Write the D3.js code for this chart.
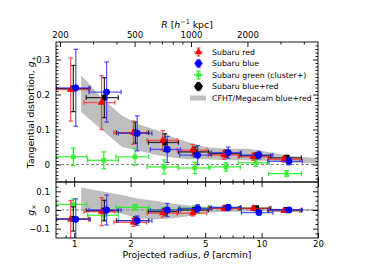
<!DOCTYPE html>
<html>
<head>
<meta charset="utf-8">
<script src="https://cdn.jsdelivr.net/npm/d3@7"></script>
<style>body{margin:0;background:#fff}</style>
</head>
<body>
<script>
// radial bins (arcmin) and bar extents
const thRed   = [0.958, 1.40, 2.07, 2.97, 4.29, 6.30, 9.03, 13.2];
const thRedLo = [0.80, 1.13, 1.63, 2.45, 3.55, 5.20, 7.50, 10.8];
const thRedHi = [1.20, 1.65, 2.44, 3.55, 5.10, 7.60, 11.0, 16.0];
const thBlue   = [1.02, 1.49, 2.17, 3.14, 4.56, 6.64, 9.68, 14.0];
const thBlueLo = [0.80, 1.20, 1.72, 2.55, 3.65, 5.40, 7.80, 10.8];
const thBlueHi = [1.22, 1.78, 2.60, 3.70, 5.40, 7.80, 11.5, 16.5];
const thBlack   = [0.99, 1.45, 2.12, 3.05, 4.41, 6.45, 9.35, 13.6];
const thBlackLo = [0.80, 1.16, 1.68, 2.49, 3.60, 5.30, 7.60, 10.9];
const thBlackHi = [1.20, 1.72, 2.50, 3.60, 5.20, 7.70, 11.2, 16.3];
const thGreen   = [0.99, 1.44, 2.11, 3.02, 4.40, 6.46, 9.30, 13.6];
const thGreenLo = [0.80, 1.18, 1.67, 2.45, 3.60, 5.20, 7.50, 10.9];
const thGreenHi = [1.17, 1.72, 2.50, 3.60, 5.30, 7.70, 11.0, 16.3];

// tangential shear g+
const gtRed    = [0.214, 0.177, 0.091, 0.069, 0.041, 0.027, 0.022, 0.015];
const gtRedE   = [0.090, 0.077, 0.033, 0.028, 0.016, 0.012, 0.010, 0.008];
const gtBlue   = [0.219, 0.207, 0.089, 0.043, 0.027, 0.034, 0.027, 0.009];
const gtBlueE  = [0.110, 0.086, 0.050, 0.037, 0.027, 0.016, 0.011, 0.010];
const gtBlack  = [0.217, 0.191, 0.091, 0.063, 0.036, 0.031, 0.025, 0.019];
const gtBlackE = [0.066, 0.057, 0.030, 0.025, 0.014, 0.010, 0.008, 0.007];
const gtGreen  = [0.022, 0.012, 0.022, -0.007, -0.010, -0.007, 0.005, -0.026];
const gtGreenE = [0.025, 0.024, 0.024, 0.020, 0.016, 0.012, 0.010, 0.008];

// cross shear gx
const gxRed    = [-0.050, -0.009, -0.066, -0.017, -0.017, 0.009, 0.009, -0.004];
const gxRedE   = [0.100, 0.075, 0.022, 0.020, 0.015, 0.012, 0.010, 0.008];
const gxBlue   = [-0.050, 0.000, -0.057, 0.000, 0.009, 0.014, -0.014, 0.000];
const gxBlueE  = [0.110, 0.080, 0.025, 0.035, 0.020, 0.015, 0.012, 0.010];
const gxBlack  = [-0.048, -0.003, -0.057, -0.009, 0.000, 0.010, 0.009, 0.000];
const gxBlackE = [0.065, 0.055, 0.020, 0.018, 0.012, 0.010, 0.008, 0.007];
const gxGreen  = [0.030, -0.028, 0.014, 0.000, 0.009, 0.014, 0.009, -0.004];
const gxGreenE = [0.030, 0.025, 0.015, 0.015, 0.012, 0.010, 0.008, 0.008];

// CFHT band
const bandTh    = [1.09, 1.4, 1.8, 2.2, 2.7, 3.3, 4.0, 5.0, 6.5, 8.5, 11, 14, 20];
const bandTopHi = [0.255, 0.19, 0.14, 0.115, 0.10, 0.08, 0.065, 0.05, 0.045, 0.045, 0.035, 0.025, 0.018];
const bandTopLo = [0.15, 0.10, 0.05, 0.04, 0.028, 0.02, 0.015, 0.015, 0.012, 0.012, 0.01, 0.005, 0.003];
const bandBotHi = [0.12, 0.10, 0.08, 0.06, 0.05, 0.035, 0.025, 0.017, 0.012, 0.010, 0.008, 0.006, 0.005];
const bandBotLo = [0.0, -0.01, -0.02, -0.045, -0.05, -0.045, -0.035, -0.015, -0.01, -0.008, -0.006, -0.005, -0.005];

const xMajor = [1, 2, 5, 10, 20];
const xMinor = [0.9, 3, 4, 6, 7, 8, 9];
const rMajor = [200, 500, 1000, 2000];
const rMinor = [300, 400, 600, 700, 800, 900, 3000, 4000];
const kpcPerArcmin = 238;

const legendLabels = ["Subaru red", "Subaru blue", "Subaru green (cluster+)", "Subaru blue+red", "CFHT/Megacam blue+red"];

const W = 374, H = 280;
const L = 56, R = 318, T = 42, MID = 182, B = 238;
const font = "DejaVu Sans";

const svg = d3.select("body").append("svg")
    .attr("width", W).attr("height", H)
    .attr("font-family", font);

const x = d3.scaleLog().domain([0.8, 20]).range([L, R]);
const xr = d3.scaleLog().domain([0.8 * kpcPerArcmin, 20 * kpcPerArcmin]).range([L, R]);
const yT = d3.scaleLinear().domain([-0.05, 0.35]).range([MID, T]);
const yB = d3.scaleLinear().domain([-0.15, 0.15]).range([B, MID]);

const defs = svg.append("defs");
defs.append("clipPath").attr("id", "cT").append("rect")
    .attr("x", L).attr("y", T).attr("width", R - L).attr("height", MID - T);
defs.append("clipPath").attr("id", "cB").append("rect")
    .attr("x", L).attr("y", MID).attr("width", R - L).attr("height", B - MID);

const pT = svg.append("g").attr("clip-path", "url(#cT)");
const pB = svg.append("g").attr("clip-path", "url(#cB)");

// bands
function band(g, y, lo, hi) {
  const idx = d3.range(bandTh.length);
  g.append("path")
    .datum(idx)
    .attr("fill", "#bfbfbf")
    .attr("d", d3.area()
      .x(i => x(bandTh[i]))
      .y0(i => y(lo[i]))
      .y1(i => y(hi[i])));
}
band(pT, yT, bandTopLo, bandTopHi);
band(pB, yB, bandBotLo, bandBotHi);

// zero lines
[[pT, yT], [pB, yB]].forEach(([g, y]) => {
  g.append("line")
    .attr("x1", L).attr("x2", R).attr("y1", y(0)).attr("y2", y(0))
    .attr("stroke", "#888").attr("stroke-width", 1).attr("stroke-dasharray", "3,2");
});

function marker(g, kind, cx, cy, col) {
  if (kind === "tri") {
    g.append("path").attr("d", d3.symbol(d3.symbolTriangle, 24)())
      .attr("transform", `translate(${cx},${cy})`).attr("fill", col);
  } else if (kind === "circ") {
    g.append("circle").attr("cx", cx).attr("cy", cy).attr("r", 3.4).attr("fill", col);
  } else if (kind === "sq") {
    g.append("rect").attr("x", cx - 3).attr("y", cy - 3).attr("width", 6).attr("height", 6).attr("fill", col);
  } else {
    const r = 3;
    [[r, 0], [0, r], [r * 0.72, r * 0.72], [r * 0.72, -r * 0.72]].forEach(([dx, dy]) => {
      g.append("line").attr("x1", cx - dx).attr("x2", cx + dx).attr("y1", cy - dy).attr("y2", cy + dy)
        .attr("stroke", col).attr("stroke-width", 1.2);
    });
  }
}

function series(g, y, th, lo, hi, val, err, col, barCol, kind) {
  const cap = 2.3;
  const bars = g.append("g").attr("stroke", barCol).attr("stroke-width", 1.3).attr("fill", "none");
  th.forEach((t, i) => {
    const cx = x(t), cy = y(val[i]);
    const x0 = x(lo[i]), x1 = x(hi[i]);
    const ya = y(val[i] + err[i]), yb = y(val[i] - err[i]);
    bars.append("line").attr("x1", x0).attr("x2", x1).attr("y1", cy).attr("y2", cy);
    bars.append("line").attr("x1", x0).attr("x2", x0).attr("y1", cy - cap).attr("y2", cy + cap);
    bars.append("line").attr("x1", x1).attr("x2", x1).attr("y1", cy - cap).attr("y2", cy + cap);
    bars.append("line").attr("x1", cx).attr("x2", cx).attr("y1", ya).attr("y2", yb);
    bars.append("line").attr("x1", cx - cap).attr("x2", cx + cap).attr("y1", ya).attr("y2", ya);
    bars.append("line").attr("x1", cx - cap).attr("x2", cx + cap).attr("y1", yb).attr("y2", yb);
  });
  th.forEach((t, i) => marker(g, kind, x(t), y(val[i]), col));
}

const cRed = "#ff0000", cBlue = "#0000ff", cGreen = "#33ee33", cBlack = "#000000";
const bRed = "rgba(255,40,40,0.75)", bBlue = "rgba(40,40,255,0.75)", bGreen = "rgba(40,240,40,0.9)", bBlack = "rgba(0,0,0,0.8)";

series(pT, yT, thGreen, thGreenLo, thGreenHi, gtGreen, gtGreenE, cGreen, bGreen, "star");
series(pT, yT, thBlack, thBlackLo, thBlackHi, gtBlack, gtBlackE, cBlack, bBlack, "sq");
series(pT, yT, thRed, thRedLo, thRedHi, gtRed, gtRedE, cRed, bRed, "tri");
series(pT, yT, thBlue, thBlueLo, thBlueHi, gtBlue, gtBlueE, cBlue, bBlue, "circ");

series(pB, yB, thGreen, thGreenLo, thGreenHi, gxGreen, gxGreenE, cGreen, bGreen, "star");
series(pB, yB, thBlack, thBlackLo, thBlackHi, gxBlack, gxBlackE, cBlack, bBlack, "sq");
series(pB, yB, thRed, thRedLo, thRedHi, gxRed, gxRedE, cRed, bRed, "tri");
series(pB, yB, thBlue, thBlueLo, thBlueHi, gxBlue, gxBlueE, cBlue, bBlue, "circ");

// axes
const fs = 8.6;
function ax(gen, tx, ty, vals, size, labels, fmt, pad) {
  const a = gen.tickValues(vals).tickSizeInner(size).tickSizeOuter(0).tickPadding(pad || 3);
  a.tickFormat(labels ? (fmt || (d => d)) : "");
  const g = svg.append("g").attr("transform", `translate(${tx},${ty})`).call(a);
  g.select(".domain").remove();
  g.selectAll("line").attr("stroke", "#000").attr("stroke-width", 0.9);
  g.selectAll("text").attr("font-size", fs).attr("font-family", font).attr("fill", "#000");
  return g;
}
const yFmt = d => d === 0 ? "0" : d3.format(".1f")(d);
const tMinor = d3.range(-0.04, 0.35, 0.01).filter(v => Math.abs(v * 10 - Math.round(v * 10)) > 0.01);
const bMinor = d3.range(-0.125, 0.15, 0.025).filter(v => Math.abs(v * 10 - Math.round(v * 10)) > 0.01);

// top panel
ax(d3.axisLeft(yT), L, 0, [0, 0.1, 0.2, 0.3], -5, true, yFmt, 6);
ax(d3.axisLeft(yT), L, 0, tMinor, -2.5, false);
ax(d3.axisRight(yT), R, 0, [0, 0.1, 0.2, 0.3], -5, false);
ax(d3.axisRight(yT), R, 0, tMinor, -2.5, false);
ax(d3.axisBottom(x), 0, MID, xMajor, -5, false);
ax(d3.axisBottom(x), 0, MID, xMinor, -2.5, false);
ax(d3.axisTop(xr), 0, T, rMajor, -5, true, d => d, 4);
ax(d3.axisTop(xr), 0, T, rMinor, -2.5, false);

// bottom panel
ax(d3.axisLeft(yB), L, 0, [-0.1, 0, 0.1], -5, true, yFmt, 6);
ax(d3.axisLeft(yB), L, 0, bMinor, -2.5, false);
ax(d3.axisRight(yB), R, 0, [-0.1, 0, 0.1], -5, false);
ax(d3.axisRight(yB), R, 0, bMinor, -2.5, false);
ax(d3.axisTop(x), 0, MID, xMajor, -5, false);
ax(d3.axisTop(x), 0, MID, xMinor, -2.5, false);
ax(d3.axisBottom(x), 0, B, xMajor, -5, true, d => d, 3);
ax(d3.axisBottom(x), 0, B, xMinor, -2.5, false);

// frames
[[T, MID], [MID, B]].forEach(([a, b]) => {
  svg.append("rect").attr("x", L).attr("y", a).attr("width", R - L).attr("height", b - a)
    .attr("fill", "none").attr("stroke", "#000").attr("stroke-width", 0.9);
});

// axis labels
const lab = 9.3;
const t1 = svg.append("text").attr("transform", `translate(34,112) rotate(-90)`)
    .attr("text-anchor", "middle").attr("font-size", lab);
t1.append("tspan").text("Tangential distortion, ");
t1.append("tspan").attr("font-style", "italic").text("g");
t1.append("tspan").attr("font-size", lab * 0.7).attr("dy", 2).text("+");

const t2 = svg.append("text").attr("transform", `translate(34,210) rotate(-90)`)
    .attr("text-anchor", "middle").attr("font-size", lab);
t2.append("tspan").attr("font-style", "italic").text("g");
t2.append("tspan").attr("font-size", lab * 0.7).attr("dy", 2).text("×");

const t3 = svg.append("text").attr("x", (L + R) / 2).attr("y", 258)
    .attr("text-anchor", "middle").attr("font-size", lab);
t3.append("tspan").text("Projected radius, ");
t3.append("tspan").attr("font-style", "italic").text("θ");
t3.append("tspan").text(" [arcmin]");

const t4 = svg.append("text").attr("x", (L + R) / 2).attr("y", 28)
    .attr("text-anchor", "middle").attr("font-size", lab);
t4.append("tspan").attr("font-style", "italic").text("R");
t4.append("tspan").text(" [");
t4.append("tspan").attr("font-style", "italic").text("h");
t4.append("tspan").attr("font-size", lab * 0.7).attr("dy", -4).text("−1");
t4.append("tspan").attr("dy", 4).text(" kpc]");

// legend
const lg = svg.append("g");
const lx = 198.5, ly0 = 52, lstep = 11.5;
const legendKinds = ["tri", "circ", "star", "sq", "band"];
const legendCols = [cRed, cBlue, cGreen, cBlack, "#bfbfbf"];
const legendBars = [bRed, bBlue, bGreen, bBlack, null];
legendLabels.forEach((s, i) => {
  const cy = ly0 + i * lstep;
  if (legendKinds[i] === "band") {
    lg.append("rect").attr("x", 190).attr("y", cy - 2.5).attr("width", 16).attr("height", 5).attr("fill", "#bfbfbf");
  } else {
    const b = lg.append("g").attr("stroke", legendBars[i]).attr("stroke-width", 1.3);
    b.append("line").attr("x1", lx - 4.5).attr("x2", lx + 4.5).attr("y1", cy).attr("y2", cy);
    b.append("line").attr("x1", lx).attr("x2", lx).attr("y1", cy - 4).attr("y2", cy + 4);
    b.append("line").attr("x1", lx - 2).attr("x2", lx + 2).attr("y1", cy - 4).attr("y2", cy - 4);
    b.append("line").attr("x1", lx - 2).attr("x2", lx + 2).attr("y1", cy + 4).attr("y2", cy + 4);
    if (legendKinds[i] === "sq") {
      lg.append("circle").attr("cx", lx).attr("cy", cy).attr("r", 3.8).attr("fill", cBlack);
    } else {
      marker(lg, legendKinds[i], lx, cy, legendCols[i]);
    }
  }
  lg.append("text").attr("x", 212).attr("y", cy).attr("dy", "0.35em")
    .attr("font-size", 7.8).text(s);
});
</script>
</body>
</html>
